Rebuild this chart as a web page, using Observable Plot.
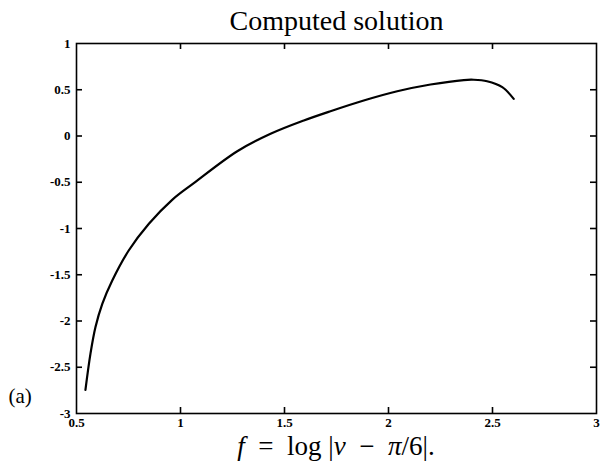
<!DOCTYPE html>
<html>
<head>
<meta charset="utf-8">
<script src="https://cdn.jsdelivr.net/npm/d3@7"></script>
<script src="https://cdn.jsdelivr.net/npm/@observablehq/plot@0.6"></script>
<style>
  html, body { margin: 0; padding: 0; background: #fff; }
</style>
</head>
<body>
<div id="chart"></div>
<script>
// Data
const xs = [0.543, 0.567, 0.591, 0.624, 0.672, 0.751, 0.848, 0.960, 1.064, 1.273, 1.433, 1.593, 1.721, 1.881, 2.042, 2.202, 2.362, 2.41, 2.474, 2.547, 2.602];
const ys = [-2.744, -2.355, -2.067, -1.814, -1.562, -1.238, -0.949, -0.690, -0.510, -0.165, 0.024, 0.168, 0.268, 0.384, 0.484, 0.557, 0.605, 0.608, 0.592, 0.528, 0.402];
const xTicks = [0.5, 1, 1.5, 2, 2.5, 3];
const xTickLabels = ["0.5", "1", "1.5", "2", "2.5", "3"];
const yTicks = [1, 0.5, 0, -0.5, -1, -1.5, -2, -2.5, -3];
const yTickLabels = ["1", "0.5", "0", "-0.5", "-1", "-1.5", "-2", "-2.5", "-3"];
const titleText = "Computed solution";
const panelText = "(a)";

const W = 604, H = 469, ML = 76, MR = 8, MT = 43, MB = 56, TICK = 6;
const frameW = W - ML - MR, frameH = H - MT - MB;
const xDom = [xTicks[0], xTicks[xTicks.length - 1]];
const yDom = [yTicks[yTicks.length - 1], yTicks[0]];
// inward tick length expressed in data units (derived from the scale domains)
const tx = TICK * (xDom[1] - xDom[0]) / frameW;
const ty = TICK * (yDom[1] - yDom[0]) / frameH;

const data = xs.map((x, i) => ({x, y: ys[i]}));
const xInner = xTicks.slice(1, -1);
const yInner = yTicks.slice(1, -1);
const fmtX = d => xTickLabels[xTicks.indexOf(d)];
const fmtY = d => yTickLabels[yTicks.indexOf(d)];

const tickFont = {fontFamily: "Liberation Serif", fontWeight: "bold", fontSize: 13};
const tickStyle = {stroke: "#000", strokeWidth: 1.6};

const plot = Plot.plot({
  width: W,
  height: H,
  marginLeft: ML,
  marginRight: MR,
  marginTop: MT,
  marginBottom: MB,
  style: {background: "#fff", color: "#000"},
  x: {domain: xDom},
  y: {domain: yDom},
  marks: [
    Plot.frame({stroke: "#000", strokeWidth: 1.6}),
    Plot.axisX(xTicks, {tickSize: 0, tickPadding: 4, tickFormat: fmtX, label: null, ...tickFont}),
    Plot.axisY(yTicks, {tickSize: 0, tickPadding: 6, tickFormat: fmtY, label: null, ...tickFont}),
    // inward ticks on all four sides
    Plot.ruleX(xInner, {x: d => d, y1: yDom[0], y2: yDom[0] + ty, ...tickStyle}),
    Plot.ruleX(xInner, {x: d => d, y1: yDom[1], y2: yDom[1] - ty, ...tickStyle}),
    Plot.ruleY(yInner, {y: d => d, x1: xDom[0], x2: xDom[0] + tx, ...tickStyle}),
    Plot.ruleY(yInner, {y: d => d, x1: xDom[1], x2: xDom[1] - tx, ...tickStyle}),
    Plot.line(data, {x: "x", y: "y", stroke: "#000", strokeWidth: 2.2, curve: "catmull-rom"}),
    Plot.text([titleText], {frameAnchor: "top", dy: -33, text: d => d, fontFamily: "Liberation Serif", fontSize: 28, fill: "#000"}),
    Plot.text([panelText], {frameAnchor: "bottom-left", dx: -68, dy: -11, text: d => d, fontFamily: "Liberation Serif", fontSize: 21, fill: "#000"})
  ]
});

document.getElementById("chart").appendChild(plot);

// Mixed-style x-axis label
const svg = d3.select(plot);
const lbl = svg.append("text")
  .attr("x", ML + frameW / 2)
  .attr("y", 455)
  .attr("text-anchor", "middle")
  .attr("font-family", "Liberation Serif")
  .attr("font-size", 27)
  .attr("fill", "#000")
  .attr("xml:space", "preserve")
  .style("white-space", "pre");
lbl.append("tspan").attr("font-style", "italic").text("f");
lbl.append("tspan").text("  =  log |");
lbl.append("tspan").attr("font-style", "italic").text("v");
lbl.append("tspan").text("  \u2212  ");
lbl.append("tspan").attr("font-style", "italic").text("\u03c0");
lbl.append("tspan").text("/6|.");
</script>
</body>
</html>
